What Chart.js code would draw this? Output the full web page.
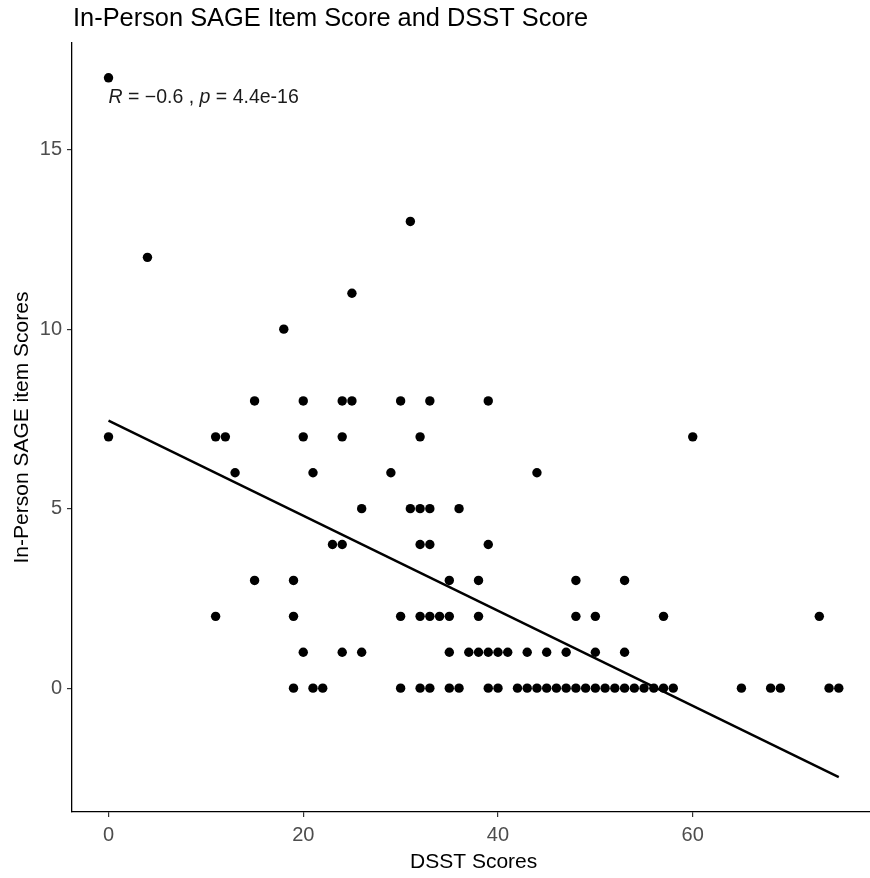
<!DOCTYPE html>
<html>
<head>
<meta charset="utf-8">
<script src="https://cdn.jsdelivr.net/npm/chart.js@4/dist/chart.umd.min.js"></script>
<style>
  html, body { margin: 0; padding: 0; background: #ffffff; overflow: hidden; }
  #wrap { width: 880px; height: 878px; }
</style>
</head>
<body>
<div id="wrap"><canvas id="c" width="880" height="878"></canvas></div>
<script>
// ---- data ----
const chartTitle = "In-Person SAGE Item Score and DSST Score";
const xAxisTitle = "DSST Scores";
const yAxisTitle = "In-Person SAGE item Scores";

// DSST score (x) and SAGE item score (y), listed by SAGE score level
const dsstScores = [
  0,
  31,
  4,
  25,
  18,
  15, 20, 24, 25, 30, 33, 39,
  0, 11, 12, 20, 24, 32, 60,
  13, 21, 29, 44,
  26, 31, 32, 33, 36,
  23, 24, 32, 33, 39,
  15, 19, 35, 38, 48, 53,
  11, 19, 30, 32, 33, 34, 35, 38, 48, 50, 57, 73,
  20, 24, 26, 35, 37, 38, 39, 40, 41, 43, 45, 47, 50, 53,
  19, 21, 22, 30, 32, 33, 35, 36, 39, 40, 42, 43, 44, 45, 46, 47, 48, 49, 50, 51, 52, 53, 54, 55, 56, 57, 58, 65, 68, 69, 74, 75
];
const sageScores = [
  17,
  13,
  12,
  11,
  10,
  8, 8, 8, 8, 8, 8, 8,
  7, 7, 7, 7, 7, 7, 7,
  6, 6, 6, 6,
  5, 5, 5, 5, 5,
  4, 4, 4, 4, 4,
  3, 3, 3, 3, 3, 3,
  2, 2, 2, 2, 2, 2, 2, 2, 2, 2, 2, 2,
  1, 1, 1, 1, 1, 1, 1, 1, 1, 1, 1, 1, 1, 1,
  0, 0, 0, 0, 0, 0, 0, 0, 0, 0, 0, 0, 0, 0, 0, 0, 0, 0, 0, 0, 0, 0, 0, 0, 0, 0, 0, 0, 0, 0, 0, 0
];

// fitted regression line end points
const fitX = [0, 75];
const fitY = [7.45, -2.48];

// axis ticks
const xTicks = [0, 20, 40, 60];
const yTicks = [0, 5, 10, 15];
const xRange = [-3.75, 78.75];
const yRange = [-3.45, 17.97];

// correlation annotation
const corR = "\u22120.6";
const corP = "4.4e-16";
const annX = 0;
const annY = 17;

// ---- build chart ----
const FONT = "'Liberation Sans', Arial, sans-serif";
const points = dsstScores.map((x, i) => ({ x: x, y: sageScores[i] }));
const fitLine = fitX.map((x, i) => ({ x: x, y: fitY[i] }));

const textPlugin = {
  id: 'texts',
  afterDraw(chart) {
    const ctx = chart.ctx;
    const ca = chart.chartArea;
    ctx.save();
    ctx.fillStyle = '#000000';
    // title
    ctx.font = '25.4px ' + FONT;
    ctx.textAlign = 'left';
    ctx.textBaseline = 'alphabetic';
    ctx.fillText(chartTitle, ca.left + 1, 26);
    // x axis title
    ctx.font = '21px ' + FONT;
    ctx.textAlign = 'center';
    ctx.fillText(xAxisTitle, (ca.left + ca.right) / 2, 868);
    // y axis title
    ctx.save();
    ctx.translate(28, (ca.top + ca.bottom) / 2);
    ctx.rotate(-Math.PI / 2);
    ctx.fillText(yAxisTitle, 0, 0);
    ctx.restore();
    // annotation
    const xs = chart.scales.x, ys = chart.scales.y;
    let px = xs.getPixelForValue(annX);
    const py = ys.getPixelForValue(annY) + 25;
    ctx.textAlign = 'left';
    const parts = [
      ['italic', 'R'],
      ['normal', ' = ' + corR + ' , '],
      ['italic', 'p'],
      ['normal', ' = ' + corP]
    ];
    ctx.fillStyle = '#1a1a1a';
    for (const [style, t] of parts) {
      ctx.font = (style === 'italic' ? 'italic ' : '') + '19.5px ' + FONT;
      ctx.fillText(t, px, py);
      px += ctx.measureText(t).width;
    }
    ctx.restore();
  }
};

new Chart(document.getElementById('c'), {
  data: {
    datasets: [
      {
        type: 'line',
        data: fitLine,
        borderColor: '#000000',
        borderWidth: 2.4,
        pointRadius: 0,
        fill: false,
        order: 0
      },
      {
        type: 'scatter',
        data: points,
        backgroundColor: '#000000',
        borderWidth: 0,
        pointRadius: 4.7,
        order: 1
      }
    ]
  },
  options: {
    responsive: false,
    animation: false,
    layout: { padding: { top: 43, right: 4, left: 0, bottom: 0 } },
    plugins: { legend: { display: false }, tooltip: { enabled: false }, title: { display: false } },
    scales: {
      x: {
        type: 'linear',
        min: xRange[0], max: xRange[1],
        afterBuildTicks(s) { s.ticks = xTicks.map(v => ({ value: v })); },
        afterFit(s) { s.height = 66; },
        grid: { display: true, drawOnChartArea: false, drawTicks: true, tickLength: 5, color: '#333333', lineWidth: 1.2 },
        border: { display: true, color: '#000000', width: 1.3 },
        ticks: { color: '#4D4D4D', font: { family: FONT, size: 20 }, padding: 6, maxRotation: 0, autoSkip: false }
      },
      y: {
        type: 'linear',
        min: yRange[0], max: yRange[1],
        afterBuildTicks(s) { s.ticks = yTicks.map(v => ({ value: v })); },
        afterFit(s) { s.width = 72; },
        grid: { display: true, drawOnChartArea: false, drawTicks: true, tickLength: 5, color: '#333333', lineWidth: 1.2 },
        border: { display: true, color: '#000000', width: 1.3 },
        ticks: { color: '#4D4D4D', font: { family: FONT, size: 20 }, padding: 5, autoSkip: false }
      }
    }
  },
  plugins: [textPlugin]
});
</script>
</body>
</html>
